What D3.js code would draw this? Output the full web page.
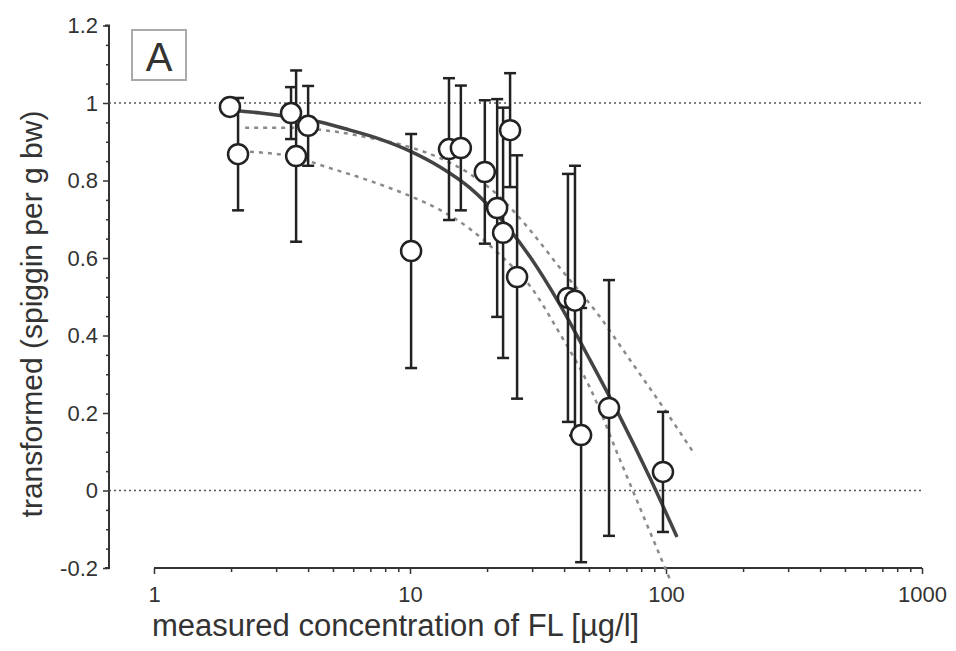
<!DOCTYPE html>
<html>
<head>
<meta charset="utf-8">
<script src="https://cdn.jsdelivr.net/npm/d3@7"></script>
<style>
	body { margin: 0; background: #fff; }
	svg { display: block; font-family: "Liberation Sans", Arial, sans-serif; }
	.tick-label { fill: #333; }
</style>
</head>
<body>
<svg id="viz" width="956" height="651"></svg>
<script>
// measured points (concentration in µg/l, transformed response, error)
let conc = [1.98, 2.13, 3.43, 3.59, 4.0, 10.1, 14.2, 15.8, 19.6, 21.9, 23.1, 24.6, 26.2, 41.4, 44.1, 46.6, 59.9, 97.3];
let response = [0.99, 0.868, 0.974, 0.863, 0.941, 0.618, 0.881, 0.884, 0.822, 0.729, 0.665, 0.930, 0.551, 0.497, 0.49, 0.143, 0.213, 0.048];
let errs = [0.01, 0.145, 0.067, 0.221, 0.103, 0.302, 0.183, 0.161, 0.185, 0.281, 0.323, 0.147, 0.314, 0.32, 0.348, 0.328, 0.33, 0.155];

// fitted curve
let fitConc = [1.98, 2.6, 3.4, 4.45, 5.83, 7.63, 10, 13.1, 17.15, 22.47, 29.43, 38.55, 50.48, 66.12, 86.6, 110.4];
let fitResp = [0.982, 0.974, 0.964, 0.951, 0.930, 0.907, 0.876, 0.835, 0.781, 0.703, 0.603, 0.479, 0.337, 0.190, 0.032, -0.120];

// dotted bands
let upConc = [2.27, 3.4, 4.87, 6.98, 10, 13.1, 17.15, 22.47, 29.43, 38.55, 53.77, 72.35, 100.9, 129.8];
let upResp = [0.936, 0.936, 0.928, 0.910, 0.886, 0.858, 0.817, 0.757, 0.672, 0.574, 0.458, 0.337, 0.200, 0.092];
let loConc = [2.37, 3.4, 4.87, 6.98, 10, 13.1, 17.15, 22.47, 29.43, 38.55, 50.48, 66.12, 86.6, 104.6];
let loResp = [0.874, 0.863, 0.832, 0.799, 0.760, 0.724, 0.675, 0.608, 0.528, 0.404, 0.265, 0.079, -0.107, -0.236];

let yTicks = [-0.2, 0, 0.2, 0.4, 0.6, 0.8, 1, 1.2];
let xTicks = [1, 10, 100, 1000];
let refLines = [0, 1];

let svg = d3.select("#viz");

let x = d3.scaleLog().domain([1, 1000]).range([154, 922]);
let y = d3.scaleLinear().domain([-0.2, 1.2]).range([568, 25.5]);

// y axis
let yAxis = svg.append("g").attr("transform", "translate(109,0)")
	.call(d3.axisLeft(y).tickValues(yTicks).tickSize(6).tickPadding(5)
		.tickFormat(function (d) { return d === 0 ? "0" : d === 1 ? "1" : d3.format(".1f")(d).replace("−", "-"); }));
yAxis.select(".domain").attr("d", "M-4," + y(1.2) + "H0V" + y(-0.2) + "H-4");

let yMinor = d3.range(-0.2, 1.2001, 0.05).filter(function (d) { return Math.abs(Math.round(d * 5) - d * 5) > 0.01; });
svg.append("g").attr("transform", "translate(109,0)")
	.call(d3.axisLeft(y).tickValues(yMinor).tickSize(3).tickFormat(""))
	.select(".domain").remove();

// x axis
let xAxis = svg.append("g").attr("transform", "translate(0,568)")
	.call(d3.axisBottom(x).tickValues(xTicks).tickSize(6).tickPadding(12).tickFormat(d3.format("d")));
xAxis.select(".domain").attr("d", "M" + x(1) + ",0H" + x(1000));

let xMinor = [];
[1, 10, 100].forEach(function (dec) {
	for (let k = 2; k <= 9; k++) xMinor.push(dec * k);
});
svg.append("g").attr("transform", "translate(0,568)")
	.call(d3.axisBottom(x).tickValues(xMinor).tickSize(4).tickFormat(""))
	.select(".domain").remove();

svg.selectAll(".domain").attr("stroke", "#333").attr("stroke-width", 2);
svg.selectAll(".tick line").attr("stroke", "#333").attr("stroke-width", 1.5);
yAxis.selectAll(".tick text").attr("class", "tick-label").attr("font-size", 22).attr("font-family", null);
xAxis.selectAll(".tick text").attr("class", "tick-label").attr("font-size", 22).attr("font-family", null);

// reference lines
svg.append("g").selectAll("line")
	.data(refLines)
	.enter()
	.append("line")
	.attr("x1", 109)
	.attr("x2", 924)
	.attr("y1", function (d) { return y(d); })
	.attr("y2", function (d) { return y(d); })
	.attr("stroke", "#555")
	.attr("stroke-width", 1.5)
	.attr("stroke-dasharray", "2,3");

// bands and fit
let line = d3.line()
	.x(function (d) { return x(d[0]); })
	.y(function (d) { return y(d[1]); })
	.curve(d3.curveMonotoneX);

[[upConc, upResp], [loConc, loResp]].forEach(function (b) {
	svg.append("path")
		.datum(d3.zip(b[0], b[1]))
		.attr("d", line)
		.attr("fill", "none")
		.attr("stroke", "#8a8a8a")
		.attr("stroke-width", 2.5)
		.attr("stroke-dasharray", "4,5");
});

svg.append("path")
	.datum(d3.zip(fitConc, fitResp))
	.attr("d", line)
	.attr("fill", "none")
	.attr("stroke", "#444")
	.attr("stroke-width", 3.5);

// error bars
let pts = conc.map(function (c, i) { return {c: c, v: response[i], e: errs[i]}; });
let bars = svg.append("g").attr("stroke", "#222").attr("stroke-width", 2.5);
pts.forEach(function (d) {
	let px = x(d.c);
	bars.append("line").attr("x1", px).attr("x2", px).attr("y1", y(d.v + d.e)).attr("y2", y(d.v - d.e));
	bars.append("line").attr("x1", px - 6).attr("x2", px + 6).attr("y1", y(d.v + d.e)).attr("y2", y(d.v + d.e));
	bars.append("line").attr("x1", px - 6).attr("x2", px + 6).attr("y1", y(d.v - d.e)).attr("y2", y(d.v - d.e));
});

svg.append("g").selectAll("circle")
	.data(pts)
	.enter()
	.append("circle")
	.attr("cx", function (d) { return x(d.c); })
	.attr("cy", function (d) { return y(d.v); })
	.attr("r", 10)
	.attr("fill", "#fff")
	.attr("stroke", "#222")
	.attr("stroke-width", 2.5);

// panel label
svg.append("rect")
	.attr("x", 132).attr("y", 30).attr("width", 54).attr("height", 50)
	.attr("fill", "#fff").attr("stroke", "#aaa").attr("stroke-width", 2);
svg.append("text")
	.attr("x", 159).attr("y", 71)
	.attr("text-anchor", "middle")
	.attr("font-size", 40)
	.attr("fill", "#333")
	.text("A");

// axis titles
svg.append("text")
	.attr("x", 152).attr("y", 636)
	.attr("font-size", 31)
	.attr("fill", "#333")
	.text("measured concentration of FL [µg/l]");

svg.append("text")
	.attr("transform", "translate(42,314) rotate(-90)")
	.attr("text-anchor", "middle")
	.attr("font-size", 30)
	.attr("fill", "#333")
	.text("transformed (spiggin per g bw)");
</script>
</body>
</html>
